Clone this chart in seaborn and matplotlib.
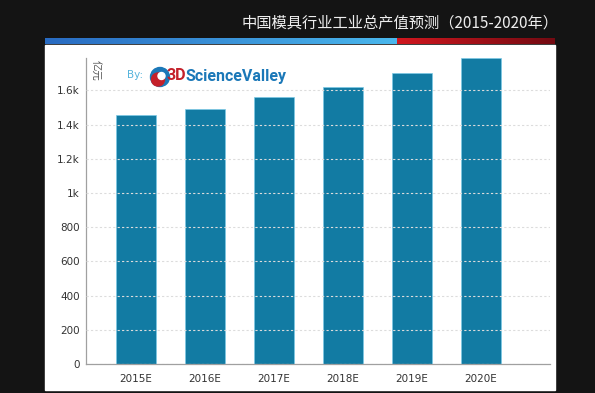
import numpy as np
import pandas as pd
import matplotlib
matplotlib.use("Agg")
import matplotlib.pyplot as plt
import seaborn as sns
from matplotlib.patches import Rectangle, Circle

# -----------------------------
# Data
# -----------------------------
years = ["2015E", "2016E", "2017E", "2018E", "2019E", "2020E"]
output_value = [1456, 1493, 1561, 1619, 1704, 1789]   # 亿元
y_ticks = [0, 200, 400, 600, 800, 1000, 1200, 1400, 1600]
y_tick_labels = ["0", "200", "400", "600", "800", "1k", "1.2k", "1.4k", "1.6k"]

title = "中国模具行业工业总产值预测（2015-2020年）"
unit = "亿元"

df = pd.DataFrame({"year": years, "value": output_value})

# -----------------------------
# Style
# -----------------------------
sns.set_style("white")
plt.rcParams["font.family"] = ["DejaVu Sans", "Noto Sans CJK SC"]
cjk = ["Noto Sans CJK SC", "DejaVu Sans"]

W, H = 595, 393
fig = plt.figure(figsize=(W / 100, H / 100), dpi=100)
fig.patch.set_facecolor("#141414")

# background layer in pixel coordinates
bg = fig.add_axes([0, 0, 1, 1], zorder=0)
bg.set_axis_off()

# white panel
bg.add_patch(Rectangle((45, 45), 510, 345, color="white", zorder=1))

# gradient bar on top of the panel
t = np.linspace(0, 1, 256)[None, :, None]
blue_img = (1 - t) * np.array([0.16, 0.42, 0.76]) + t * np.array([0.29, 0.72, 0.93])
red_img = (1 - t) * np.array([0.82, 0.09, 0.12]) + t * np.array([0.45, 0.04, 0.07])
bg.imshow(blue_img, extent=[45, 397, 44, 38], aspect="auto", zorder=2)
bg.imshow(red_img, extent=[397, 555, 44, 38], aspect="auto", zorder=2)

# title
bg.text(559, 23, title, color="#eeeeee", fontsize=11, ha="right", va="center",
        family=cjk, zorder=3)

# "By:" + logo
bg.text(127, 75, "By:", color="#56b4dc", fontsize=7.5, ha="left", va="center", zorder=3)
bg.add_patch(Circle((160, 77), 9.5, color="#1b78b8", zorder=3))
bg.add_patch(Circle((158, 79.5), 6.5, color="#c4202a", zorder=4))
bg.add_patch(Circle((161.5, 76), 3.5, color="white", zorder=5))
bg.text(166.5, 76, "3D", color="#c4202a", fontsize=11.5, fontweight="bold",
        family="Roboto", ha="left", va="center", zorder=3)
bg.text(186, 76, "ScienceValley", color="#1b78b8", fontsize=11.5, fontweight="bold",
        family="Roboto", ha="left", va="center", zorder=3)

bg.set_xlim(0, W)
bg.set_ylim(H, 0)

# -----------------------------
# Bar chart
# -----------------------------
ax = fig.add_axes([86 / W, 1 - 364 / H, (550 - 86) / W, (364 - 58) / H], zorder=1)
ax.set_facecolor("none")

sns.barplot(data=df, x="year", y="value", color="#127ba3", saturation=1,
            width=0.59, edgecolor="#7cc9e6", linewidth=0.5, ax=ax)

ax.set_xlim(-0.725, 6.0)
ax.set_ylim(0, 1790)
ax.set_xticks(range(len(years) + 1))
ax.set_xticklabels(years + [""])
ax.set_yticks(y_ticks)
ax.set_yticklabels(y_tick_labels)
ax.set_xlabel("")
ax.set_ylabel("")

ax.tick_params(axis="both", colors="#888888", labelcolor="#333333",
               labelsize=7.5, length=3, width=0.8, direction="out")
ax.tick_params(axis="x", pad=4)
ax.tick_params(axis="y", pad=1.5)

sns.despine(ax=ax)
for side in ["left", "bottom"]:
    ax.spines[side].set_color("#a0a0a0")
    ax.spines[side].set_linewidth(0.9)

ax.yaxis.grid(True, color="#dcdcdc", linestyle=(0, (2, 2)), linewidth=0.8)
ax.set_axisbelow(False)

# unit label
ax.text(0.008, 0.995, unit, transform=ax.transAxes, rotation=270, color="#555555",
        fontsize=7.5, ha="left", va="top", family=cjk)

fig.savefig("out.png", dpi=100, facecolor=fig.get_facecolor())
